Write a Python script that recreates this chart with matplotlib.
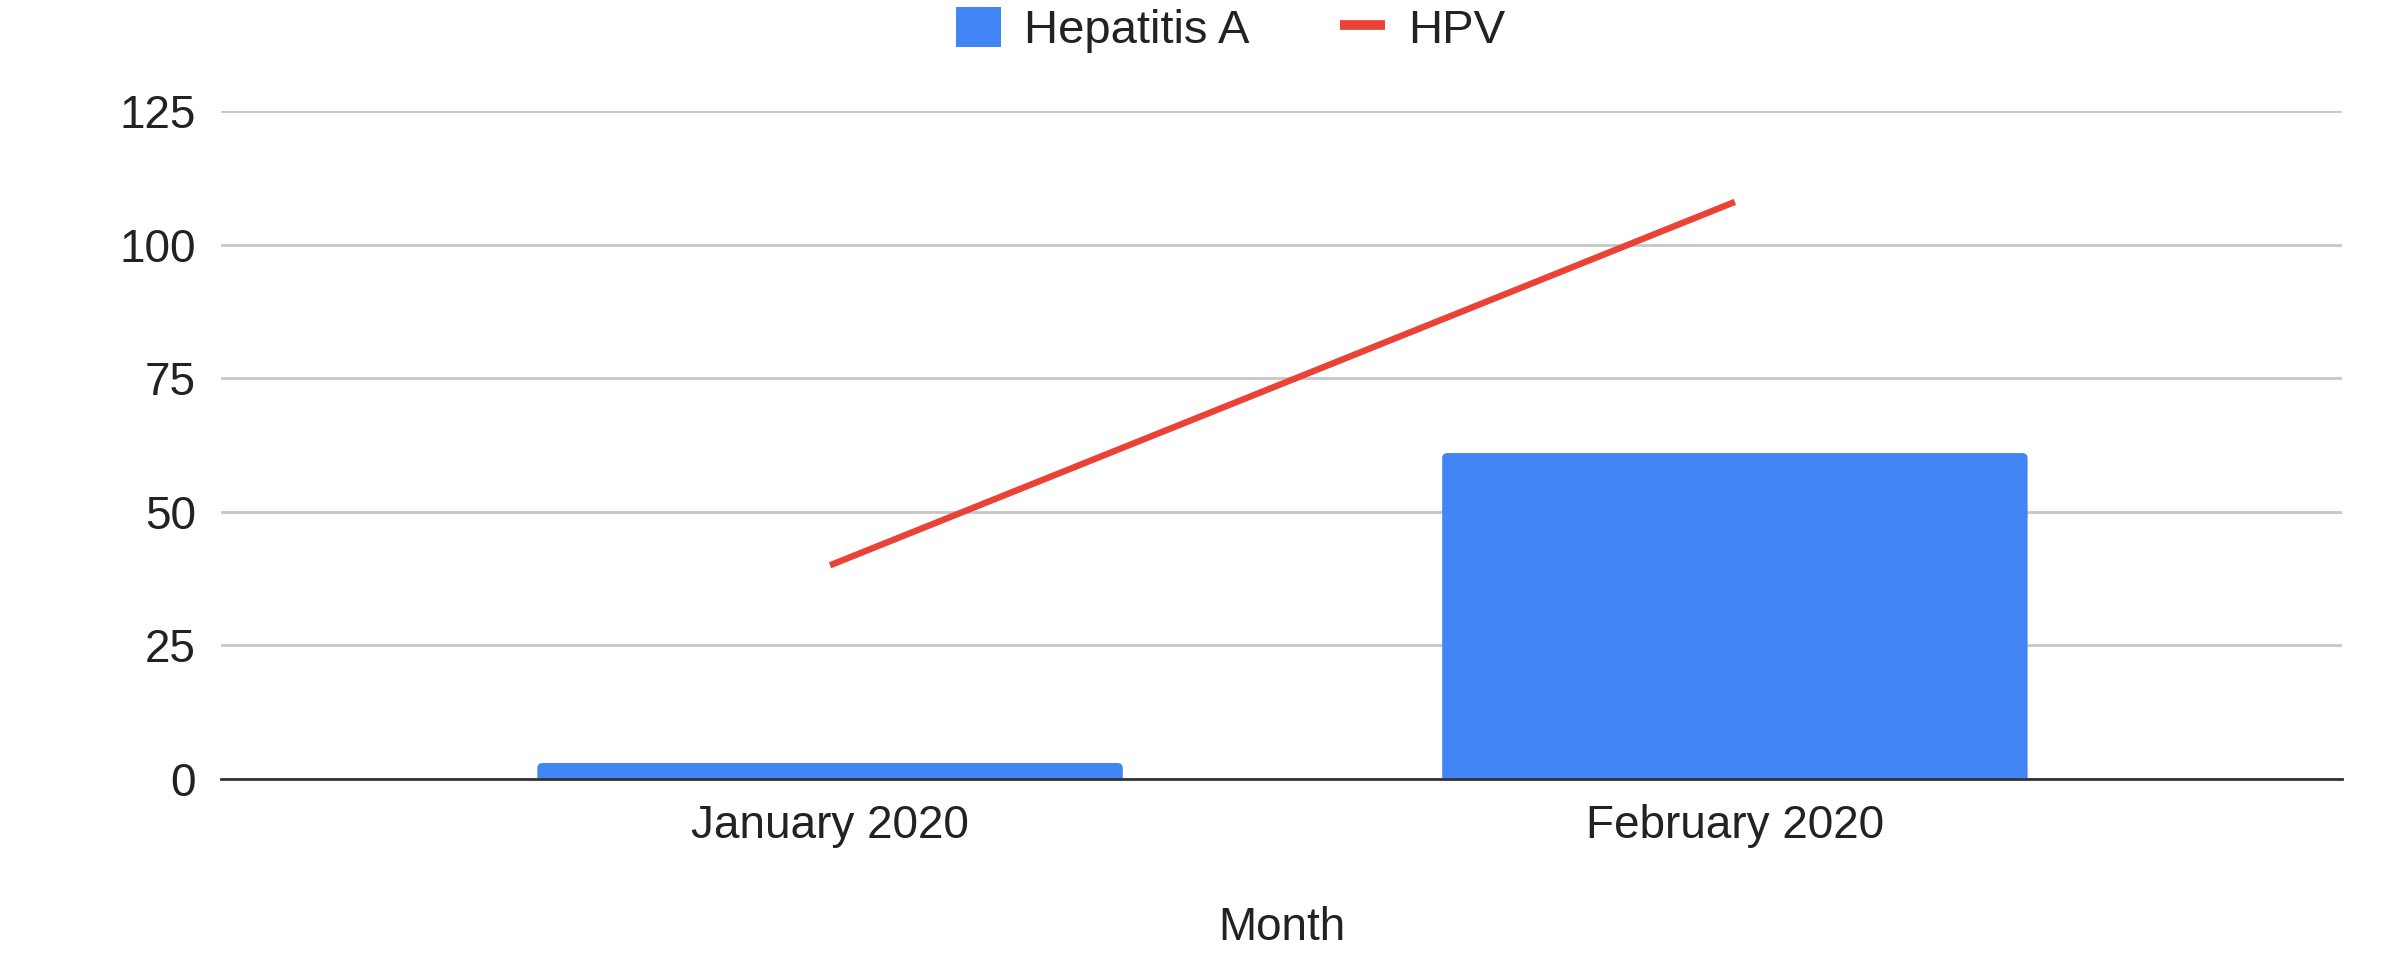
import matplotlib
matplotlib.use('Agg')
from matplotlib import pyplot as plt
from matplotlib.patches import FancyBboxPatch, Patch
from matplotlib.lines import Line2D
import numpy as np

months = ['January 2020', 'February 2020']
hepatitis_a = [3, 61]
hpv = [40, 108]
y_ticks = [0, 25, 50, 75, 100, 125]

blue = '#4285F4'
red = '#EA4335'

plt.rcParams['font.family'] = ['Liberation Sans', 'DejaVu Sans']

fig = plt.figure(figsize=(23.85, 9.68), dpi=100)
ax = fig.add_axes([0.0927, 0.1952, 0.8893, 0.6901])

x = np.arange(len(months))
bars = ax.bar(x, hepatitis_a, width=0.647, color=blue, zorder=2)
# swap the plain rectangles for ones with slightly rounded corners
for rect in bars:
    rx, rw, rh = rect.get_x(), rect.get_width(), rect.get_height()
    rect.set_visible(False)
    ax.add_patch(FancyBboxPatch((rx, -2), rw, rh + 2,
                                boxstyle='round,pad=0,rounding_size=0.006',
                                mutation_aspect=160, facecolor=blue,
                                edgecolor='none', zorder=2))

ax.plot(x, hpv, color=red, linewidth=4.6, zorder=3, solid_capstyle='butt')

ax.set_xlim(-0.673, 1.671)
ax.set_ylim(0, 125)
ax.set_yticks(y_ticks)
ax.set_xticks(x)
ax.set_xticklabels(months)
ax.tick_params(axis='both', length=0, labelsize=33, colors='#222222')
ax.tick_params(axis='y', pad=18)
ax.tick_params(axis='x', pad=18)

ax.grid(axis='y', color='#c8c8c8', linewidth=2, zorder=0)
for s in ['top', 'right', 'left']:
    ax.spines[s].set_visible(False)
ax.spines['bottom'].set_color('#333333')
ax.spines['bottom'].set_linewidth(2)
ax.spines['bottom'].set_zorder(4)

ax.set_xlabel('Month', fontsize=33, color='#222222', labelpad=42)

handles = [Patch(facecolor=blue, edgecolor='none'),
           Line2D([0], [0], color=red, linewidth=7, solid_capstyle='butt')]
leg = fig.legend(handles=handles, labels=['Hepatitis A', 'HPV'], loc='upper center',
                 bbox_to_anchor=(0.516, 1.037), ncol=2, frameon=False, fontsize=34,
                 handlelength=0.95, handleheight=0.95, columnspacing=1.9, handletextpad=0.5)
for t in leg.get_texts():
    t.set_color('#222222')

fig.savefig('out.png', dpi=100, facecolor='white')
